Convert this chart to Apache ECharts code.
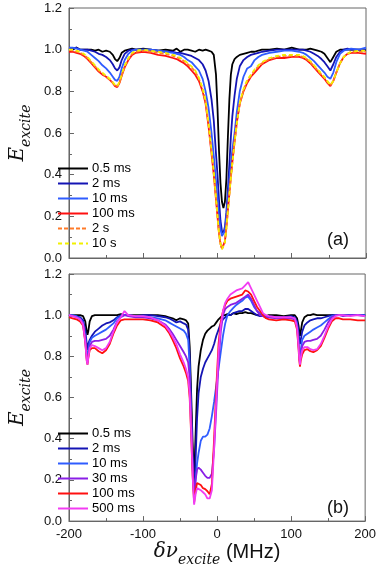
<!DOCTYPE html>
<html><head><meta charset="utf-8">
<script src="https://cdn.jsdelivr.net/npm/echarts@6/dist/echarts.min.js"></script>
<style>html,body{margin:0;padding:0;background:#fff}#c{width:379px;height:568px}</style>
</head><body><div id="c"></div>
<script>
// ---------- Panel (a) ----------
const xA = [-200,-195,-190,-185,-180,-175,-170,-165,-160,-155,
 -150,-145,-141,-138,-135,-132,-129,-125,-120,-115,
 -110,-100,-90,-80,-70,-60,-55,-50,-45,-40,
 -35,-30,-25,-20,-16,-12,-8,-5,-2,0,
 2,4,6,8,10,12,14,16,18,20,
 23,26,30,35,40,45,50,55,60,70,
 80,90,100,110,115,120,125,130,135,140,
 144,148,152,156,160,165,170,175,180,190,
 200];
const a_05ms = [1.0,1.0,1.01,1.0,1.0,1.0,1.0,0.995,1.0,0.99,
 0.995,0.99,0.975,0.955,0.945,0.96,0.985,0.995,1.0,1.005,
 1.0,1.005,1.0,0.995,1.0,0.995,1.005,0.99,1.0,1.0,
 0.995,0.99,1.0,0.995,1.0,0.995,0.99,0.975,0.88,0.72,
 0.52,0.36,0.27,0.24,0.27,0.38,0.58,0.76,0.88,0.93,
 0.955,0.965,0.975,0.98,0.985,0.99,0.99,0.995,1.0,1.0,
 1.005,1.0,1.01,1.0,1.0,1.0,1.005,1.0,0.995,0.99,
 0.98,0.96,0.94,0.965,0.99,1.0,1.0,1.0,1.0,1.0,
 0.995];
const a_2ms = [1.01,1.005,1.01,1.0,1.0,1.0,0.995,0.99,0.98,0.975,
 0.965,0.95,0.93,0.91,0.9,0.915,0.95,0.98,0.995,1.0,
 1.0,1.0,1.0,0.995,0.99,0.99,0.985,0.985,0.98,0.975,
 0.97,0.96,0.95,0.93,0.9,0.85,0.76,0.66,0.5,0.4,
 0.28,0.18,0.13,0.12,0.15,0.22,0.33,0.45,0.58,0.68,
 0.78,0.86,0.92,0.95,0.965,0.975,0.98,0.985,0.99,0.995,
 1.0,1.0,1.0,1.0,1.0,0.995,0.99,0.98,0.97,0.955,
 0.94,0.92,0.9,0.93,0.965,0.99,1.0,1.005,1.0,1.0,
 1.0];
const a_10ms = [1.01,1.01,1.005,1.0,0.995,0.99,0.975,0.96,0.945,0.925,
 0.91,0.89,0.87,0.855,0.85,0.87,0.91,0.95,0.98,0.995,
 1.0,1.0,1.0,0.995,0.99,0.985,0.98,0.975,0.965,0.95,
 0.94,0.92,0.9,0.86,0.8,0.72,0.6,0.49,0.37,0.29,
 0.2,0.14,0.105,0.1,0.13,0.2,0.28,0.37,0.45,0.52,
 0.6,0.7,0.8,0.87,0.91,0.92,0.95,0.965,0.975,0.985,
 0.99,0.995,0.995,0.99,0.985,0.975,0.96,0.945,0.925,0.905,
 0.89,0.87,0.86,0.89,0.94,0.98,0.995,1.0,1.005,1.0,
 1.01];
const a_100ms = [0.99,0.99,0.985,0.98,0.97,0.955,0.935,0.915,0.895,0.88,
 0.87,0.855,0.84,0.825,0.82,0.84,0.875,0.915,0.95,0.975,
 0.985,0.99,0.985,0.975,0.97,0.96,0.955,0.945,0.935,0.92,
 0.9,0.88,0.85,0.8,0.74,0.63,0.5,0.4,0.28,0.2,
 0.12,0.07,0.045,0.045,0.08,0.15,0.23,0.31,0.39,0.46,
 0.56,0.65,0.74,0.8,0.84,0.87,0.89,0.91,0.93,0.95,
 0.96,0.96,0.965,0.965,0.96,0.95,0.935,0.915,0.895,0.875,
 0.86,0.84,0.825,0.85,0.89,0.935,0.965,0.98,0.985,0.985,
 0.98];
const a_2s = [1.0,0.995,0.99,0.985,0.975,0.96,0.94,0.92,0.9,0.885,
 0.87,0.855,0.84,0.83,0.825,0.84,0.875,0.92,0.955,0.98,
 0.99,0.995,0.99,0.985,0.98,0.97,0.965,0.955,0.945,0.93,
 0.915,0.895,0.86,0.81,0.75,0.64,0.51,0.41,0.29,0.2,
 0.12,0.07,0.042,0.04,0.075,0.145,0.225,0.305,0.385,0.455,
 0.555,0.645,0.74,0.805,0.85,0.875,0.9,0.92,0.935,0.955,
 0.965,0.97,0.97,0.97,0.965,0.955,0.94,0.92,0.9,0.88,
 0.865,0.845,0.83,0.85,0.89,0.935,0.965,0.98,0.99,0.99,
 0.99];
const a_10s = [1.0,1.0,0.995,0.99,0.98,0.965,0.945,0.925,0.905,0.89,
 0.875,0.86,0.845,0.83,0.825,0.845,0.88,0.925,0.96,0.985,
 0.995,1.0,0.995,0.99,0.985,0.975,0.97,0.96,0.95,0.935,
 0.92,0.9,0.865,0.815,0.755,0.645,0.515,0.415,0.29,0.2,
 0.12,0.07,0.042,0.04,0.075,0.145,0.225,0.305,0.385,0.455,
 0.555,0.645,0.745,0.81,0.855,0.88,0.905,0.925,0.94,0.96,
 0.97,0.975,0.975,0.975,0.97,0.96,0.945,0.925,0.905,0.885,
 0.87,0.85,0.83,0.85,0.89,0.935,0.965,0.98,0.99,0.995,
 0.995];

// ---------- Panel (b) ----------
const xB = [-200,-195,-190,-185,-181,-178,-176,-175,-174,-172,
 -169,-165,-160,-155,-150,-145,-140,-135,-130,-125,
 -120,-110,-100,-90,-80,-70,-65,-60,-55,-50,
 -45,-42,-39,-37,-35,-33,-31,-29,-27,-25,
 -22,-19,-16,-13,-10,-7,-4,-1,2,5,
 8,11,14,18,22,26,30,34,38,42,
 46,50,54,58,62,66,70,80,90,100,
 105,108,110,111,112,113,115,118,122,126,
 130,135,140,145,150,155,160,165,170,180,
 190,200];
const b_05ms = [1.0,1.0,1.0,1.0,0.995,0.97,0.92,0.905,0.92,0.97,
 0.995,1.0,1.0,1.0,1.0,1.0,1.0,1.0,1.005,1.0,
 1.0,1.0,1.0,1.0,1.0,0.995,0.99,0.985,0.975,0.985,
 0.98,0.975,0.96,0.85,0.62,0.38,0.2,0.42,0.64,0.75,
 0.83,0.88,0.91,0.925,0.935,0.945,0.95,0.965,0.98,0.99,
 1.0,1.0,1.005,1.0,1.01,1.005,1.01,1.01,1.015,1.01,
 1.01,1.005,1.0,1.0,1.0,0.995,1.0,1.0,0.995,1.0,
 1.0,0.985,0.95,0.92,0.9,0.92,0.965,0.99,1.0,1.0,
 1.005,1.0,1.0,1.0,1.0,1.0,1.0,1.0,1.0,1.0,
 1.0,1.0];
const b_2ms = [1.0,0.995,0.995,0.99,0.975,0.93,0.86,0.83,0.86,0.88,
 0.9,0.92,0.935,0.95,0.96,0.965,0.975,0.99,1.0,1.0,
 1.0,0.995,1.0,1.0,0.995,0.99,0.985,0.975,0.965,0.97,
 0.96,0.955,0.93,0.8,0.55,0.3,0.13,0.3,0.5,0.62,
 0.7,0.74,0.77,0.79,0.81,0.83,0.86,0.9,0.93,0.96,
 0.98,0.99,1.0,1.0,1.01,1.015,1.02,1.02,1.03,1.03,
 1.02,1.01,1.0,0.995,0.995,0.99,0.995,0.99,0.99,0.995,
 0.99,0.97,0.92,0.88,0.86,0.88,0.92,0.95,0.965,0.975,
 0.98,0.985,0.985,0.99,0.995,1.0,1.0,1.0,1.0,1.0,
 1.0,1.0];
const b_10ms = [1.0,1.0,0.995,0.985,0.965,0.9,0.81,0.79,0.82,0.87,
 0.89,0.9,0.91,0.92,0.93,0.945,0.96,0.985,0.995,1.0,
 1.0,0.995,0.995,0.99,0.985,0.975,0.965,0.955,0.945,0.935,
 0.925,0.91,0.88,0.75,0.5,0.26,0.11,0.2,0.28,0.33,
 0.39,0.41,0.41,0.42,0.45,0.51,0.58,0.66,0.74,0.82,
 0.9,0.96,1.0,1.02,1.035,1.05,1.06,1.07,1.085,1.09,
 1.07,1.04,1.02,1.01,1.0,0.995,0.99,0.99,0.985,0.99,
 0.985,0.96,0.88,0.82,0.8,0.83,0.88,0.9,0.91,0.92,
 0.93,0.94,0.95,0.965,0.98,0.995,1.0,1.0,1.0,1.0,
 1.0,1.0];
const b_30ms = [1.0,0.995,0.99,0.98,0.96,0.88,0.79,0.77,0.8,0.85,
 0.87,0.875,0.875,0.88,0.885,0.9,0.93,0.97,0.99,1.0,
 0.995,0.99,0.99,0.985,0.975,0.955,0.935,0.91,0.88,0.85,
 0.82,0.8,0.77,0.7,0.5,0.27,0.12,0.2,0.25,0.26,
 0.25,0.235,0.22,0.21,0.21,0.23,0.35,0.55,0.77,0.92,
 1.0,1.03,1.04,1.05,1.055,1.06,1.07,1.08,1.09,1.1,
 1.08,1.05,1.02,1.0,0.995,0.99,0.99,0.985,0.985,0.985,
 0.98,0.95,0.86,0.8,0.77,0.8,0.85,0.87,0.875,0.875,
 0.88,0.885,0.9,0.93,0.965,0.99,1.0,1.0,0.995,1.0,
 1.0,0.995];
const b_100ms = [0.99,0.985,0.98,0.97,0.95,0.87,0.78,0.76,0.79,0.83,
 0.84,0.84,0.825,0.815,0.83,0.86,0.91,0.95,0.975,0.98,
 0.98,0.98,0.98,0.975,0.965,0.94,0.915,0.88,0.84,0.79,
 0.75,0.72,0.68,0.6,0.42,0.22,0.09,0.15,0.185,0.19,
 0.175,0.16,0.155,0.145,0.13,0.18,0.4,0.65,0.86,0.97,
 1.02,1.05,1.07,1.08,1.085,1.09,1.095,1.1,1.12,1.115,
 1.1,1.07,1.04,1.02,1.0,0.985,0.98,0.975,0.98,0.975,
 0.97,0.93,0.84,0.78,0.75,0.78,0.81,0.83,0.835,0.825,
 0.82,0.83,0.85,0.89,0.935,0.97,0.985,0.985,0.98,0.98,
 0.975,0.975];
const b_500ms = [1.0,0.995,0.99,0.98,0.955,0.87,0.78,0.76,0.79,0.84,
 0.855,0.85,0.84,0.83,0.84,0.87,0.92,0.965,0.99,1.02,
 1.0,0.995,0.995,0.99,0.975,0.95,0.925,0.895,0.86,0.81,
 0.77,0.74,0.7,0.62,0.44,0.22,0.08,0.13,0.16,0.165,
 0.15,0.14,0.13,0.11,0.11,0.15,0.35,0.6,0.82,0.95,
 1.02,1.06,1.08,1.1,1.11,1.12,1.125,1.13,1.145,1.16,
 1.13,1.1,1.07,1.04,1.01,1.0,0.995,0.99,0.99,0.99,
 0.985,0.94,0.85,0.79,0.76,0.79,0.83,0.845,0.845,0.835,
 0.83,0.835,0.86,0.9,0.945,0.98,0.995,1.0,1.0,0.995,
 1.0,0.995];

const namesA = ['0.5 ms','2 ms','10 ms','100 ms','2 s','10 s'];
const namesB = ['0.5 ms','2 ms','10 ms','30 ms','100 ms','500 ms'];

const SANS = 'Liberation Sans, Arial, sans-serif';
const SERIF = 'DejaVu Serif, serif';
const AX = '#666';

const seriesA = [
  {d:a_05ms, c:'#000000', t:'solid'},
  {d:a_2ms, c:'#1414b4', t:'solid'},
  {d:a_10ms, c:'#2f5cff', t:'solid'},
  {d:a_100ms, c:'#ff1010', t:'solid'},
  {d:a_2s, c:'#ff7a28', t:[4,2]},
  {d:a_10s, c:'#f2f000', t:[4,3]}
];
const seriesB = [
  {d:b_05ms, c:'#000000'},
  {d:b_2ms, c:'#1414b4'},
  {d:b_10ms, c:'#2f5cff'},
  {d:b_30ms, c:'#8a1ee6'},
  {d:b_100ms, c:'#ff1010'},
  {d:b_500ms, c:'#f23cf2'}
];

function mkX(i, labels) {
  return {
    gridIndex: i, type: 'value', min: -200, max: 200, interval: 100,
    axisLine: {show: true, onZero: false, lineStyle: {color: AX, width: 1}},
    axisTick: {show: true, inside: true, length: 5, lineStyle: {color: AX}},
    minorTick: {show: true, splitNumber: 2, length: 3, lineStyle: {color: AX}},
    splitLine: {show: false}, minorSplitLine: {show: false},
    axisLabel: {show: labels, color: '#111', fontSize: 13, fontFamily: SANS, margin: 7},
    name: labels ? '{d|δν}{s|excite}{m| (MHz)}' : '',
    nameLocation: 'middle', nameGap: 19,
    nameTextStyle: {
      rich: {
        d: {fontFamily: SERIF, fontStyle: 'italic', fontSize: 20, lineHeight: 22, verticalAlign: 'bottom', padding: [0,0,5,0], color: '#111'},
        s: {fontFamily: SERIF, fontStyle: 'italic', fontSize: 14, lineHeight: 16, verticalAlign: 'bottom', color: '#111'},
        m: {fontFamily: SANS, fontSize: 20, lineHeight: 22, verticalAlign: 'bottom', padding: [0,0,5,0], color: '#111'}
      }
    }
  };
}
function mkY(i) {
  return {
    gridIndex: i, type: 'value', min: 0, max: 1.2, interval: 0.2,
    axisLine: {show: true, onZero: false, lineStyle: {color: AX, width: 1}},
    axisTick: {show: true, inside: true, length: 5, lineStyle: {color: AX}},
    minorTick: {show: true, splitNumber: 2, length: 3, lineStyle: {color: AX}},
    splitLine: {show: false}, minorSplitLine: {show: false},
    axisLabel: {color: '#111', fontSize: 13, fontFamily: SANS, margin: 7, formatter: v => v.toFixed(1)},
    name: '{e|E}{s|excite}', nameLocation: 'middle', nameGap: 25,
    nameTextStyle: {
      rich: {
        e: {fontFamily: SERIF, fontStyle: 'italic', fontSize: 20, lineHeight: 22, verticalAlign: 'bottom', padding: [0,0,5,0], color: '#111'},
        s: {fontFamily: SERIF, fontStyle: 'italic', fontSize: 14, lineHeight: 16, verticalAlign: 'bottom', color: '#111'}
      }
    }
  };
}
function mkSeries(list, names, xs, gi) {
  return list.map((s, k) => ({
    name: names[k], type: 'line', xAxisIndex: gi, yAxisIndex: gi,
    symbol: 'none', smooth: false, animation: false,
    lineStyle: {color: s.c, width: 1.8, type: s.t || 'solid'},
    itemStyle: {color: s.c},
    data: xs.map((x, j) => [x, s.d[j]])
  }));
}
const legendBase = {
  orient: 'vertical', left: 57, padding: 0, itemWidth: 30, itemHeight: 14, itemGap: 2,
  itemStyle: {opacity: 0, borderWidth: 0},
  textStyle: {fontSize: 13, fontFamily: SANS, color: '#000', padding: [0,0,0,-1]},
  selectedMode: false
};

const chart = echarts.init(document.getElementById('c'), null, {renderer: 'canvas'});
chart.setOption({
  animation: false,
  backgroundColor: '#fff',
  grid: [
    {left: 54, top: 8, width: 312, height: 250, show: true, borderColor: AX, borderWidth: 1, backgroundColor: 'transparent'},
    {left: 54, top: 274, width: 312, height: 250, show: true, borderColor: AX, borderWidth: 1, backgroundColor: 'transparent'}
  ],
  xAxis: [mkX(0, false), mkX(1, true)],
  yAxis: [mkY(0), mkY(1)],
  legend: [
    Object.assign({}, legendBase, {top: 162, data: namesA}),
    Object.assign({}, legendBase, {top: 427, data: namesB})
  ],
  title: [
    {text: '(a)', left: 327, top: 231, padding: 0, textStyle: {fontSize: 18, fontWeight: 'normal', fontFamily: SANS, color: '#111'}},
    {text: '(b)', left: 327, top: 499, padding: 0, textStyle: {fontSize: 18, fontWeight: 'normal', fontFamily: SANS, color: '#111'}}
  ],
  series: mkSeries(seriesA, namesA, xA, 0).concat(mkSeries(seriesB, namesB, xB, 1))
});
</script></body></html>
